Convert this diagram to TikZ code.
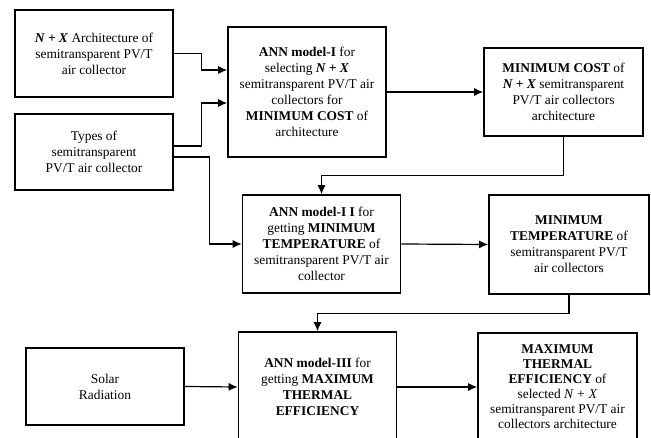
\documentclass[tikz,border=0pt]{standalone}
\usepackage{fontspec}
\setmainfont{Liberation Serif}
\usetikzlibrary{arrows.meta}
\newcommand{\NX}{\textbf{\textit{N + X}}}

\begin{document}
\begin{tikzpicture}[x=1pt,y=-1pt,
  boite/.style={draw,line width=1.6pt,inner sep=0pt,align=center,
    minimum width=158pt,font=\fontsize{13.4}{16}\selectfont},
  fleche/.style={line width=1.2pt,-{Latex[length=9pt,width=8pt]}}]
\useasboundingbox (0,0) rectangle (651,438);

% Entrees
\node[boite,minimum height=87pt] (archi) at (94,53.5) {\NX{} Architecture of\\semitransparent PV/T\\air collector};
\node[boite,minimum height=76pt] (types) at (94,152) {Types of\\semitransparent\\PV/T air collector};
\node[boite,minimum height=77pt] (solaire) at (105,386.5) {Solar\\Radiation};

% Modeles ANN
\node[boite,minimum height=130pt] (annI) at (307,92) {\textbf{ANN model-I} for\\selecting \NX\\semitransparent PV/T air\\collectors for\\\textbf{MINIMUM COST} of\\architecture};
\node[boite,minimum height=98pt] (annII) at (321.5,244) {\textbf{ANN model-I I} for\\getting \textbf{MINIMUM}\\\textbf{TEMPERATURE} of\\semitransparent PV/T air\\collector};
\node[boite,minimum height=110pt] (annIII) at (317.5,387) {\textbf{ANN model-III} for\\getting \textbf{MAXIMUM}\\\textbf{THERMAL}\\\textbf{EFFICIENCY}};

% Sorties
\node[boite,minimum width=159pt,minimum height=88pt] (cout) at (563.5,92) {\textbf{MINIMUM COST} of\\\NX{} semitransparent\\PV/T air collectors\\architecture};
\node[boite,minimum width=160pt,minimum height=99pt] (temp) at (569,244.5) {\textbf{MINIMUM}\\\textbf{TEMPERATURE} of\\semitransparent PV/T\\air collectors};
\node[boite,minimum width=159pt,minimum height=108pt,font=\fontsize{13.4}{15}\selectfont] (eff) at (557.5,387) {\textbf{MAXIMUM}\\\textbf{THERMAL}\\\textbf{EFFICIENCY} of\\selected \textit{N + X}\\semitransparent PV/T air\\collectors architecture};

% Liaisons
\draw[fleche] (archi.east) -- ++(28,0) |- ([yshift=22pt]annI.west);
\draw[fleche] ([yshift=6pt]types.east) -- ++(28,0) |- ([yshift=-11pt]annI.west);
\draw[fleche] ([yshift=-5pt]types.east) -- ++(36,0) |- (annII.west);
\draw[fleche] (annI.east) -- (cout.west);
\draw[fleche] (cout.south) -- ++(0,39) -| (annII.north);
\draw[fleche] (annII.east) -- (temp.west);
\draw[fleche] (temp.south) -- ++(0,19) -| (annIII.north);
\draw[fleche] (solaire.east) -- (annIII.west);
\draw[fleche] (annIII.east) -- (eff.west);
\end{tikzpicture}
\end{document}
